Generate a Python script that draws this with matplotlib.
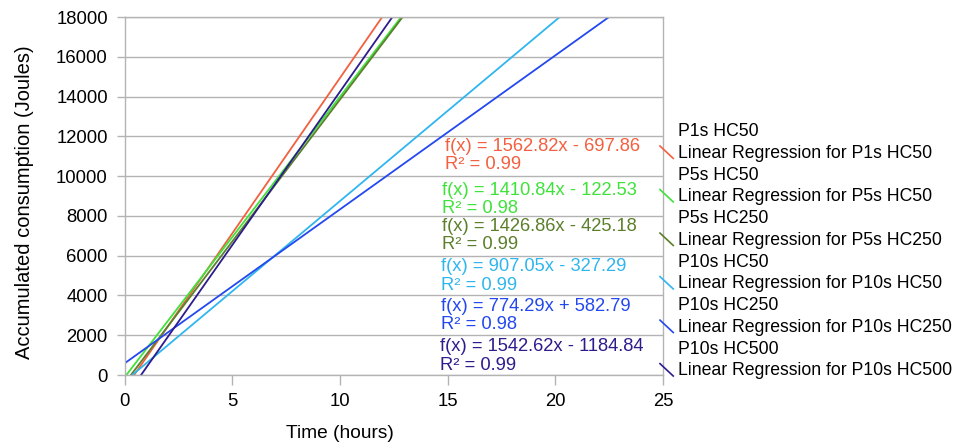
import numpy as np
import matplotlib
matplotlib.use("Agg")
import matplotlib.pyplot as plt
from matplotlib.lines import Line2D
from matplotlib.legend_handler import HandlerBase

plt.rcParams['font.family'] = ['Liberation Sans', 'DejaVu Sans']

# ---- data ----
series_names = ["P1s HC50", "P5s HC50", "P5s HC250", "P10s HC50", "P10s HC250", "P10s HC500"]
slopes = [1562.82, 1410.84, 1426.86, 907.05, 774.29, 1542.62]
intercepts = [-697.86, -122.53, -425.18, -327.29, 582.79, -1184.84]
r2_values = [0.99, 0.98, 0.99, 0.99, 0.98, 0.99]
colors = ["#f2603f", "#3fe23a", "#5b7f2b", "#2fb6ef", "#2348f0", "#2e1b8c"]
# equation label anchor (data coords, left / vertical centre)
label_x = [14.9, 14.75, 14.75, 14.7, 14.7, 14.63]
label_y = [11030, 8830, 7020, 4980, 2990, 950]

x_ticks = [0, 5, 10, 15, 20, 25]
y_ticks = list(range(0, 18001, 2000))

fig = plt.figure(figsize=(9.56, 4.47), dpi=100)
ax = fig.add_axes([124.5 / 956, 72 / 447, (663 - 124.5) / 956, (375 - 17) / 447])

grid_c = "#b3b3b3"
xs = np.array([0.0, 25.0])
for s, b, c in zip(slopes, intercepts, colors):
    ax.plot(xs, s * xs + b, color=c, lw=1.3, solid_capstyle='butt')

for name, s, b, r2, c, lx, ly in zip(series_names, slopes, intercepts, r2_values, colors, label_x, label_y):
    sign = "-" if b < 0 else "+"
    txt = f"f(x) = {s:.2f}x {sign} {abs(b):.2f}\nR² = {r2:.2f}"
    ax.text(lx, ly, txt, color=c, fontsize=13.2, ha='left', va='center', linespacing=1.12)

ax.set_xlim(0, 25)
ax.set_ylim(0, 18000)
ax.set_xticks(x_ticks)
ax.set_yticks(y_ticks)
ax.yaxis.grid(True, color=grid_c, lw=1.0)
ax.set_axisbelow(True)
for sp in ax.spines.values():
    sp.set_color(grid_c)
    sp.set_linewidth(1.0)
ax.tick_params(axis='both', colors=grid_c, labelcolor='black', labelsize=13.3, direction='out', width=1.0)
ax.tick_params(axis='y', length=6, pad=6)
ax.tick_params(axis='x', length=7, pad=6)

ax.set_xlabel("Time (hours)", fontsize=13.8)
ax.set_ylabel("Accumulated consumption (Joules)", fontsize=14.5)
ax.xaxis.set_label_coords(0.40, -0.14)
ax.yaxis.set_label_coords(-0.168, 0.483)


class DiagHandler(HandlerBase):
    def create_artists(self, legend, orig_handle, xdescent, ydescent, width, height, fontsize, trans):
        l = Line2D([-xdescent, -xdescent + width], [height * 0.95, -height * 0.05],
                   color=orig_handle.get_color(), lw=1.2, transform=trans)
        if orig_handle.get_linestyle() in ('None', 'none', ''):
            l.set_visible(False)
        return [l]


handles, labels = [], []
for name, c in zip(series_names, colors):
    handles.append(Line2D([], [], linestyle='none', color=c))
    labels.append(name)
    handles.append(Line2D([], [], color=c))
    labels.append(f"Linear Regression for {name}")

leg = fig.legend(handles, labels, handler_map={Line2D: DiagHandler()},
                 loc='upper left', bbox_to_anchor=(660 / 956, 1 - 123 / 447),
                 frameon=False, fontsize=12.7, handlelength=0.75, handleheight=0.7,
                 handletextpad=0.27, labelspacing=0.27, borderpad=0, borderaxespad=0)

fig.savefig("out.png", dpi=100)
